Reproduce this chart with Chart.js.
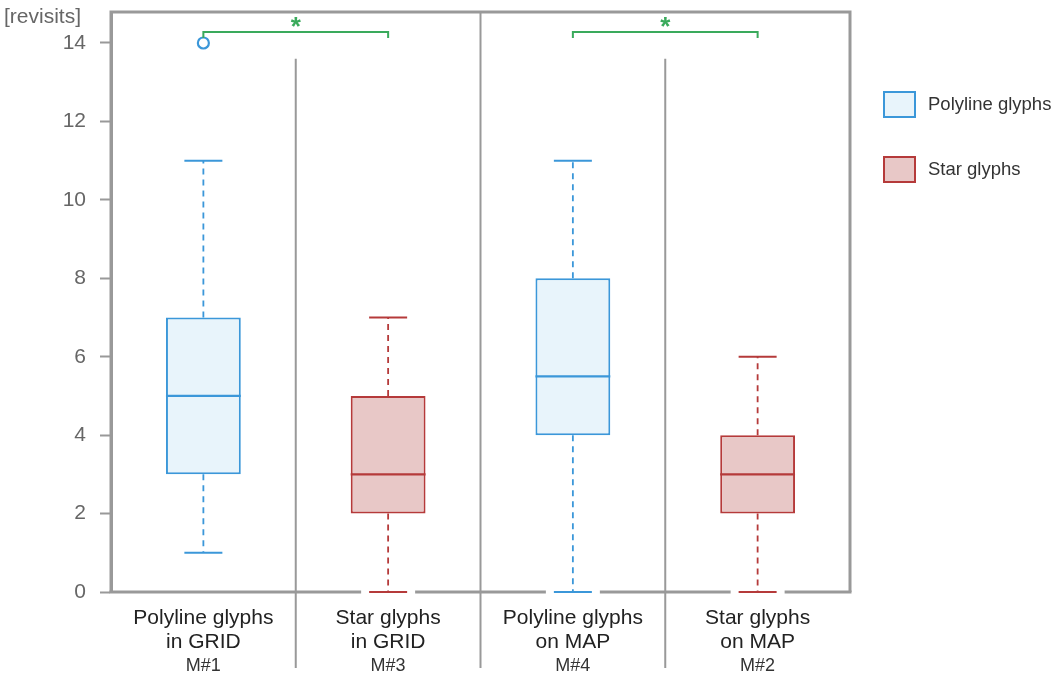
<!DOCTYPE html>
<html>
<head>
<meta charset="utf-8">
<script src="https://cdn.jsdelivr.net/npm/chart.js@4.4.1/dist/chart.umd.min.js"></script>
<style>
  html,body{margin:0;padding:0;background:#fff;}
  #wrap{width:1056px;height:680px;position:relative;}
</style>
</head>
<body>
<div id="wrap"><canvas id="c" width="1056" height="680"></canvas></div>
<script>
// ---- data ----
const categories = [
  ["Polyline glyphs", "in GRID", "M#1"],
  ["Star glyphs", "in GRID", "M#3"],
  ["Polyline glyphs", "on MAP", "M#4"],
  ["Star glyphs", "on MAP", "M#2"]
];
const mins    = [1, 0, 0, 0];
const q1s     = [3, 2, 4, 2];
const medians = [5, 3, 5.5, 3];
const q3s     = [7, 5, 8, 4];
const maxs    = [11, 7, 11, 6];
const outliers = [14, null, null, null];
const groups  = ["Polyline glyphs", "Star glyphs", "Polyline glyphs", "Star glyphs"];
const yTicks  = [0, 2, 4, 6, 8, 10, 12, 14];
const significance = [[0, 1], [2, 3]];

const FONT = "'Liberation Sans', Arial, sans-serif";
const BLUE = "#3b97d9", BLUE_FILL = "#e8f4fb";
const RED = "#b53a3a", RED_FILL = "#e8c8c7";
const GREEN = "#3aaa5c";
const GRAY = "#999999";
const strokeFor = g => g === "Polyline glyphs" ? BLUE : RED;
const fillFor = g => g === "Polyline glyphs" ? BLUE_FILL : RED_FILL;

const boxPlugin = {
  id: "boxExtras",
  afterDatasetsDraw(chart) {
    const ctx = chart.ctx, x = chart.scales.x, y = chart.scales.y, ca = chart.chartArea;
    ctx.save();
    const capW = 38;
    categories.forEach((c, i) => {
      const cx = x.getPixelForValue(i);
      const col = strokeFor(groups[i]);
      ctx.strokeStyle = col; ctx.lineWidth = 1.8; ctx.setLineDash([6, 5]);
      ctx.beginPath();
      ctx.moveTo(cx, y.getPixelForValue(q3s[i])); ctx.lineTo(cx, y.getPixelForValue(maxs[i]));
      ctx.moveTo(cx, y.getPixelForValue(q1s[i])); ctx.lineTo(cx, y.getPixelForValue(mins[i]));
      ctx.stroke();
      ctx.setLineDash([]);
      [mins[i], maxs[i]].forEach(v => {
        const py = y.getPixelForValue(v);
        ctx.strokeStyle = col; ctx.lineWidth = 2;
        ctx.beginPath(); ctx.moveTo(cx - capW / 2, py); ctx.lineTo(cx + capW / 2, py); ctx.stroke();
      });
      const meta = chart.getDatasetMeta(0).data[i];
      const half = meta.width / 2;
      ctx.strokeStyle = col; ctx.lineWidth = 2.2;
      const my = y.getPixelForValue(medians[i]);
      ctx.beginPath(); ctx.moveTo(cx - half, my); ctx.lineTo(cx + half, my); ctx.stroke();
    });
    // frame
    ctx.strokeStyle = GRAY; ctx.lineWidth = 3;
    ctx.beginPath();
    ctx.moveTo(ca.left, ca.bottom); ctx.lineTo(ca.left, ca.top); ctx.lineTo(ca.right, ca.top); ctx.lineTo(ca.right, ca.bottom);
    ctx.stroke();
    const gaps = [];
    categories.forEach((c, i) => { if (mins[i] === 0) { const cx = x.getPixelForValue(i); gaps.push([cx - capW / 2 - 8, cx + capW / 2 + 8]); } });
    let sx = ca.left - 1.5;
    ctx.beginPath();
    gaps.forEach(g => { ctx.moveTo(sx, ca.bottom); ctx.lineTo(g[0], ca.bottom); sx = g[1]; });
    ctx.moveTo(sx, ca.bottom); ctx.lineTo(ca.right + 1.5, ca.bottom);
    ctx.stroke();
    // dividers
    ctx.lineWidth = 2; ctx.strokeStyle = GRAY;
    for (let i = 0; i < categories.length - 1; i++) {
      const dx = (x.getPixelForValue(i) + x.getPixelForValue(i + 1)) / 2;
      const topY = (i === 1) ? ca.top : y.getPixelForValue(13.6);
      ctx.beginPath(); ctx.moveTo(dx, topY); ctx.lineTo(dx, 668); ctx.stroke();
    }
    // significance brackets
    ctx.strokeStyle = GREEN; ctx.fillStyle = GREEN; ctx.lineWidth = 2;
    significance.forEach(([a, b]) => {
      const xa = x.getPixelForValue(a), xb = x.getPixelForValue(b);
      const by = 32;
      ctx.beginPath();
      ctx.moveTo(xa, by + 6); ctx.lineTo(xa, by); ctx.lineTo(xb, by); ctx.lineTo(xb, by + 6);
      ctx.stroke();
      ctx.font = "bold 26px " + FONT;
      ctx.textAlign = "center"; ctx.textBaseline = "middle";
      ctx.fillText("*", (xa + xb) / 2, 28);
    });
    // category labels
    ctx.textAlign = "center"; ctx.textBaseline = "middle";
    categories.forEach((c, i) => {
      const cx = x.getPixelForValue(i);
      ctx.fillStyle = "#222";
      ctx.font = "21px " + FONT;
      ctx.fillText(c[0], cx, 618);
      ctx.fillText(c[1], cx, 642);
      ctx.fillStyle = "#333";
      ctx.font = "18px " + FONT;
      ctx.fillText(c[2], cx, 666);
    });
    // y title
    ctx.fillStyle = "#666"; ctx.font = "21px " + FONT;
    ctx.textAlign = "left"; ctx.textBaseline = "middle";
    ctx.fillText("[revisits]", 4, 17);
    // legend
    const leg = [["Polyline glyphs", 105], ["Star glyphs", 170]];
    leg.forEach(([name, ly]) => {
      ctx.fillStyle = fillFor(name); ctx.strokeStyle = strokeFor(name); ctx.lineWidth = 2;
      ctx.fillRect(884, ly - 13, 31, 25); ctx.strokeRect(884, ly - 13, 31, 25);
      ctx.fillStyle = "#333"; ctx.font = "18.5px " + FONT;
      ctx.textAlign = "left"; ctx.textBaseline = "middle";
      ctx.fillText(name, 928, ly);
    });
    ctx.restore();
  }
};

new Chart(document.getElementById("c"), {
  data: {
    labels: categories.map(c => c.join(" ")),
    datasets: [
      {
        type: "bar",
        data: q1s.map((v, i) => [v, q3s[i]]),
        backgroundColor: groups.map(fillFor),
        borderColor: groups.map(strokeFor),
        borderWidth: 2,
        borderSkipped: false,
        categoryPercentage: 1,
        barPercentage: 0.405
      },
      {
        type: "line",
        data: outliers,
        showLine: false,
        pointRadius: 5.5,
        pointBorderWidth: 2.2,
        pointBorderColor: BLUE,
        pointBackgroundColor: "#fff"
      }
    ]
  },
  plugins: [boxPlugin],
  options: {
    responsive: false,
    animation: false,
    devicePixelRatio: 1,
    layout: { padding: { top: 0, right: 206, bottom: 88, left: 0 } },
    plugins: { legend: { display: false }, tooltip: { enabled: false } },
    scales: {
      x: { display: false, offset: true },
      y: {
        min: 0, max: 14.79,
        afterFit: s => { s.width = 111; s.paddingTop = 12; s.paddingBottom = 0; },
        afterBuildTicks: s => { s.ticks = yTicks.map(v => ({ value: v })); },
        grid: { drawOnChartArea: false, drawTicks: true, tickLength: 11, tickColor: GRAY, tickWidth: 2 },
        border: { display: true, color: GRAY, width: 3 },
        ticks: { color: "#666", padding: 14, font: { size: 21, family: FONT } }
      }
    }
  }
});
</script>
</body>
</html>
